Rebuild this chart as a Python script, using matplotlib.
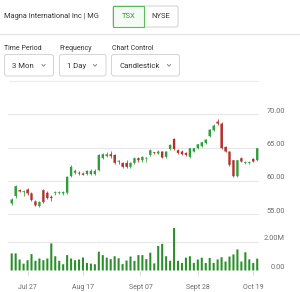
import matplotlib
matplotlib.use("Agg")
import matplotlib.pyplot as plt
from matplotlib.patches import FancyBboxPatch, Rectangle
from matplotlib.lines import Line2D

plt.rcParams['font.family'] = ['Roboto', 'DejaVu Sans']

# daily candles, Jul 21 - Oct 20 (trading days)
opens = [56.6, 57.7, 58.6, 58.3, 58.7, 58.1, 56.9, 56.2, 58.6, 58.2,
         57.6, 58.2, 58.2, 58.1, 58.2, 60.7, 61.2, 61.2, 61.1, 61.0,
         61.0, 61.0, 61.6, 63.4, 63.7, 64.0, 63.9, 63.0, 62.7, 62.7,
         62.1, 62.7, 63.4, 63.1, 63.35, 63.9, 64.3, 64.1, 64.4, 63.6,
         64.8, 66.3, 64.6, 64.4, 64.2, 63.6, 64.4, 64.9, 65.2, 65.7,
         66.7, 67.6, 68.9, 68.6, 65.1, 64.4, 63.1, 60.7, 63.4, 62.7,
         62.7, 63.3, 63.1]
closes = [57.2, 59.2, 58.4, 58.4, 58.1, 57.1, 56.3, 56.8, 56.8, 57.4,
          57.4, 58.3, 58.3, 58.3, 60.6, 62.1, 61.5, 61.1, 60.9, 61.5,
          61.5, 61.5, 63.9, 64.0, 64.0, 63.7, 62.7, 62.9, 62.1, 62.1,
          62.7, 63.4, 63.1, 63.6, 63.45, 64.6, 64.2, 64.4, 63.5, 64.4,
          65.4, 64.8, 64.2, 64.0, 63.9, 64.9, 64.9, 65.5, 65.8, 66.2,
          67.7, 68.3, 68.6, 64.9, 64.4, 62.4, 60.7, 63.1, 62.9, 62.8,
          62.8, 62.9, 64.9]
highs = [57.4, 59.4, 58.8, 58.6, 58.9, 58.3, 57.1, 57.0, 58.8, 58.4,
         57.8, 58.5, 58.4, 58.5, 60.7, 62.4, 61.7, 61.4, 61.3, 61.6,
         61.7, 61.7, 64.1, 64.2, 64.3, 64.5, 64.1, 63.2, 62.9, 63.2,
         62.8, 63.6, 63.6, 63.8, 63.6, 64.8, 64.4, 64.6, 64.5, 64.5,
         65.6, 66.4, 64.8, 64.6, 64.4, 65.0, 65.0, 65.6, 65.9, 66.3,
         67.8, 68.5, 69.3, 68.8, 65.2, 64.5, 63.2, 63.2, 63.6, 63.0,
         63.0, 63.4, 65.0]
lows = [56.3, 57.4, 58.3, 57.7, 57.9, 57.0, 56.2, 56.0, 56.6, 57.2,
        57.0, 57.9, 58.0, 57.9, 58.0, 60.6, 61.0, 60.9, 60.8, 60.9,
        60.9, 60.8, 61.5, 63.3, 63.6, 63.5, 62.6, 62.6, 62.0, 61.9,
        62.0, 62.6, 62.8, 62.9, 62.8, 63.8, 64.0, 64.0, 63.4, 63.5,
        64.7, 64.7, 64.1, 63.9, 63.8, 63.4, 64.3, 64.8, 65.1, 65.6,
        66.6, 67.5, 68.4, 64.8, 64.3, 62.3, 60.6, 60.6, 62.8, 62.5,
        62.5, 62.8, 63.0]
volumes = [1.2, 1.2, 0.77, 0.48, 0.72, 1.15, 0.68, 0.84, 0.72, 0.84,
           1.9, 1.0, 0.68, 0.44, 1.08, 0.84, 0.72, 0.77, 0.91, 0.53,
           0.48, 0.44, 1.32, 1.08, 0.9, 0.8, 1.0, 0.86, 0.45, 0.7,
           0.98, 0.68, 1.08, 1.08, 0.8, 1.25, 0.5, 1.72, 1.87, 1.0,
           0.68, 2.98, 0.68, 0.53, 0.9, 1.0, 0.53, 0.77, 0.9, 0.53,
           0.88, 0.53, 0.78, 0.93, 0.63, 0.98, 1.13, 1.48, 0.63, 1.28,
           0.78, 0.53, 0.83]  # millions

tick_pos = [4, 18, 32.5, 47, 61]
tick_labels = ['Jul 27', 'Aug 17', 'Sept 07', 'Sept 28', 'Oct 19']
price_ticks = [55, 60, 65, 70]
vol_ticks = [0, 2]

GREEN = '#2f9e3a'
RED = '#b3302c'
VOLG = '#2a8f2a'
GRID = '#e8e8e8'
LBL = '#6b6b6b'

W, H = 300, 292
fig = plt.figure(figsize=(W / 100, H / 100), dpi=100)


def px_axes(left, top, right, bottom):
    return fig.add_axes([left / W, 1 - bottom / H, (right - left) / W, (bottom - top) / H])


def fx(x):
    return x / W


def fy(y):
    return 1 - y / H


# ---- header ----
fig.text(fx(4), fy(16), 'Magna International Inc | MG', fontsize=5.3, color='#333333', va='center')
fig.patches.append(FancyBboxPatch((fx(113), fy(27)), fx(65), (21 / H), boxstyle='round,pad=0,rounding_size=0.006',
                                  transform=fig.transFigure, fc='white', ec='#d0d0d0', lw=0.7))
fig.patches.append(Rectangle((fx(113), fy(27)), fx(31), 21 / H, transform=fig.transFigure,
                             fc='#f4fbf4', ec='#5cb85c', lw=0.8))
fig.text(fx(128.5), fy(16), 'TSX', fontsize=5.5, color='#3c9a3c', ha='center', va='center')
fig.text(fx(161), fy(16), 'NYSE', fontsize=5.5, color='#333333', ha='center', va='center')
fig.lines.append(Line2D([0, 1], [fy(33.5), fy(33.5)], transform=fig.transFigure, color='#e2e2e2', lw=0.8))

# ---- dropdowns ----
labels = [('Time Period', 4.5), ('Frequency', 59), ('Chart Control', 112)]
for txt, x in labels:
    fig.text(fx(x), fy(48), txt, fontsize=5.0, color='#333333', va='center')
boxes = [('3 Mon', 4.5, 53.5, 23, 43.5), ('1 Day', 59.5, 106, 77, 95), ('Candlestick', 111.5, 179.5, 140, 169)]
for txt, x0, x1, tx, cx in boxes:
    fig.patches.append(FancyBboxPatch((fx(x0), fy(76)), fx(x1 - x0), 21.5 / H,
                                      boxstyle='round,pad=0,rounding_size=0.008',
                                      transform=fig.transFigure, fc='white', ec='#d4d4d4', lw=0.7))
    fig.text(fx(tx), fy(65.5), txt, fontsize=5.6, color='#333333', ha='center', va='center')
    fig.lines.append(Line2D([fx(cx - 1.6), fx(cx), fx(cx + 1.6)], [fy(64.5), fy(66.3), fy(64.5)],
                            transform=fig.transFigure, color='#777777', lw=0.6))
fig.lines.append(Line2D([fx(10), fx(258)], [fy(81), fy(81)], transform=fig.transFigure, color='#ececec', lw=0.8))

# ---- price panel ----
ax = px_axes(8, 100, 259, 216)
idx = list(range(len(opens)))
x_lo = (8 - 11.7) / 3.96
x_hi = (259 - 11.7) / 3.96
ax.set_xlim(x_lo, x_hi)
ax.set_ylim(70 - (216 - 114.3) / 6.65, 70 - (100 - 114.3) / 6.65)
colors = [GREEN if c >= o else RED for o, c in zip(opens, closes)]
bottoms = [min(o, c) for o, c in zip(opens, closes)]
heights = [max(abs(c - o), 0.12) for o, c in zip(opens, closes)]
ax.vlines(idx, lows, highs, colors=colors, lw=0.55, zorder=2)
bodies = ax.bar(idx, heights, bottom=bottoms, width=0.6, color=colors, zorder=3)
for b in bodies:
    b.set_snap(False)
for p in price_ticks:
    ax.axhline(p, color=GRID, lw=0.8, zorder=0)
    fig.text(fx(285), ax.transData.transform((0, p))[1] / (H) + 3 / H, f'{p:.2f}',
             fontsize=5.3, color=LBL, ha='right', va='center')
ax.axis('off')

# ---- volume panel ----
vax = px_axes(8, 225, 259, 270.5)
vax.set_xlim(x_lo, x_hi)
vax.set_ylim(0, (270.5 - 225) / 14.25)
vbars = vax.bar(idx, volumes, width=0.52, color=VOLG, zorder=3)
for b in vbars:
    b.set_snap(False)
vax.axhline(2, color=GRID, lw=0.8, zorder=0)
for v in vol_ticks:
    y = vax.transData.transform((0, v))[1] / H + 3 / H
    fig.text(fx(285), y, '2.00M' if v else '0.00', fontsize=5.3, color=LBL, ha='right', va='center')
for s in vax.spines.values():
    s.set_visible(False)
vax.set_yticks([])
vax.set_xticks(tick_pos)
vax.set_xticklabels(tick_labels, fontsize=5.0, color=LBL)
vax.tick_params(axis='x', length=3, width=0.6, color='#cfcfcf', pad=7)

fig.savefig('out.png', dpi=100, facecolor='white')
